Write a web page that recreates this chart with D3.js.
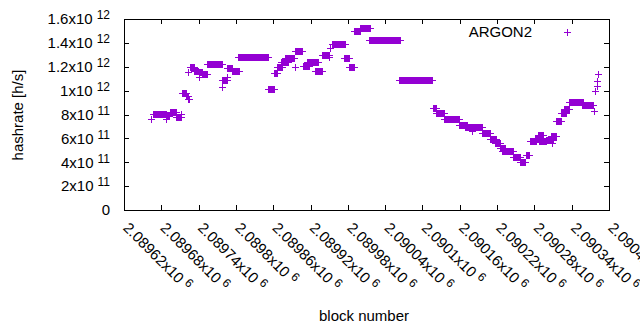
<!DOCTYPE html>
<html>
<head>
<meta charset="utf-8">
<script src="https://cdn.jsdelivr.net/npm/d3@7"></script>
<style>
  body { margin: 0; background: #fff; }
  text { font-family: "Liberation Sans", Arial, sans-serif; fill: #000; }
</style>
</head>
<body>
<div id="chart"></div>
<script>

// runs of consecutive blocks that share one hashrate value (h/s)
var runFirst = [2089664, 2089667, 2089689, 2089688, 2089694, 2089705, 2089712,
  2089714, 2089721, 2089724,
  2089723, 2089727, 2089733, 2089741, 2089747, 2089742,
  2089754,
  2089779, 2089779, 2089787,
  2089787, 2089794,
  2089804,
  2089853,
  2089862, 2089867, 2089874, 2089879, 2089896, 2089896, 2089908, 2089915, 2089928,
  2089940, 2089950, 2089952, 2089955, 2089975, 2089983, 2089990, 2090001, 2090015,
  2090063,
  2090117, 2090123, 2090136, 2090160, 2090169, 2090181, 2090197, 2090209, 2090217,
  2090225, 2090228, 2090246, 2090257, 2090267, 2090273, 2090281, 2090286, 2090289,
  2090300, 2090308, 2090309, 2090316, 2090324, 2090329, 2090336, 2090358,
  2090377, 2090379, 2090381, 2090382, 2090383];
var runLast = [2089664, 2089688, 2089689, 2089693, 2089704, 2089712, 2089712,
  2089720, 2089724, 2089726,
  2089723, 2089733, 2089740, 2089747, 2089754, 2089742,
  2089778,
  2089779, 2089786, 2089787,
  2089794, 2089805,
  2089853,
  2089862,
  2089867, 2089875, 2089884, 2089894, 2089896, 2089907, 2089918, 2089932, 2089940,
  2089951, 2089950, 2089952, 2089977, 2089983, 2089990, 2090001, 2090017, 2090064,
  2090116,
  2090123, 2090136, 2090160, 2090173, 2090197, 2090181, 2090210, 2090219, 2090225,
  2090233, 2090246, 2090257, 2090266, 2090272, 2090284, 2090286, 2090294, 2090300,
  2090310, 2090316, 2090309, 2090324, 2090332, 2090337, 2090359, 2090375,
  2090377, 2090379, 2090381, 2090382, 2090383];
var runRate = [7.58e11, 8.04e11, 7.62e11, 7.87e11, 8.17e11, 7.75e11, 8.04e11,
  9.72e11, 9.47e11, 9.26e11,
  1.156e12, 1.190e12, 1.164e12, 1.148e12, 1.131e12, 1.106e12,
  1.215e12,
  1.022e12, 1.089e12, 1.114e12,
  1.185e12, 1.164e12,
  1.277e12,
  1.011e12,
  1.145e12, 1.190e12, 1.237e12, 1.265e12, 1.195e12, 1.329e12, 1.204e12, 1.237e12, 1.159e12,
  1.296e12, 1.276e12, 1.355e12, 1.388e12, 1.265e12, 1.195e12, 1.497e12, 1.519e12, 1.416e12,
  1.083e12,
  8.47e11, 8.12e11, 7.60e11, 7.06e11, 6.94e11, 6.60e11, 6.45e11, 5.92e11, 5.59e11,
  5.19e11, 4.88e11, 4.37e11, 4.00e11, 4.57e11, 5.75e11, 5.89e11, 6.28e11, 5.70e11,
  5.80e11, 6.14e11, 5.59e11, 7.44e11, 8.10e11, 8.38e11, 9.03e11, 8.73e11,
  8.23e11, 9.91e11, 1.033e12, 1.075e12, 1.131e12];

var seriesName = "ARGON2";
var xTicks = [2089620, 2089680, 2089740, 2089800, 2089860, 2089920, 2089980,
  2090040, 2090100, 2090160, 2090220, 2090280, 2090340, 2090400];
var yTicks = [0, 2e11, 4e11, 6e11, 8e11, 1e12, 1.2e12, 1.4e12, 1.6e12];

var W = 640, H = 330;
var plotL = 124, plotR = 609, plotT = 19, plotB = 210;
var purple = "#9400d3";
var fs = 15, fsSup = 12;

var svg = d3.select("#chart").append("svg")
  .attr("width", W)
  .attr("height", H);

var x = d3.scaleLinear().domain([xTicks[0], xTicks[xTicks.length - 1]]).range([plotL, plotR]);
var y = d3.scaleLinear().domain([0, 1.6e12]).range([plotB, plotT]);

// split a value into mantissa and power of ten, gnuplot style
function sci(v) {
  if (v === 0) return null;
  var e = Math.floor(Math.log10(v) + 1e-9);
  var m = +(v / Math.pow(10, e)).toFixed(6);
  return [String(m), String(e)];
}

// axes with inward ticks, mirrored on the opposite side
var tl = 5;
var yAxisL = d3.axisLeft(y).tickValues(yTicks).tickSize(-tl).tickFormat("");
var yAxisR = d3.axisRight(y).tickValues(yTicks).tickSize(-tl).tickFormat("");
var xAxisB = d3.axisBottom(x).tickValues(xTicks).tickSize(-tl).tickFormat("");
var xAxisT = d3.axisTop(x).tickValues(xTicks).tickSize(-tl).tickFormat("");

svg.append("g").attr("transform", "translate(" + plotL + ",0)").call(yAxisL);
svg.append("g").attr("transform", "translate(" + plotR + ",0)").call(yAxisR);
svg.append("g").attr("transform", "translate(0," + plotB + ")").call(xAxisB);
svg.append("g").attr("transform", "translate(0," + plotT + ")").call(xAxisT);
svg.selectAll(".domain").remove();
svg.selectAll(".tick line").attr("stroke", "#000").attr("shape-rendering", "crispEdges");

svg.append("rect")
  .attr("x", plotL).attr("y", plotT)
  .attr("width", plotR - plotL).attr("height", plotB - plotT)
  .attr("fill", "none").attr("stroke", "#000")
  .attr("shape-rendering", "crispEdges");

// y tick labels
var yl = svg.append("g").selectAll("text")
  .data(yTicks)
  .enter().append("text")
  .attr("x", 110)
  .attr("y", function(d) { return y(d); })
  .attr("dy", "0.35em")
  .attr("text-anchor", "end")
  .style("font-size", fs + "px");
yl.each(function(d) {
  var t = d3.select(this);
  var s = sci(d);
  if (!s) { t.text("0"); return; }
  t.append("tspan").text(s[0] + "x10");
  t.append("tspan").attr("dx", 4).attr("dy", -5).style("font-size", fsSup + "px").text(s[1]);
});

// x tick labels, rotated
var xl = svg.append("g").selectAll("text")
  .data(xTicks)
  .enter().append("text")
  .attr("transform", function(d) { return "translate(" + (x(d) + 2) + ",225) rotate(45)"; })
  .attr("dy", "0.35em")
  .attr("text-anchor", "start")
  .style("font-size", fs + "px");
xl.each(function(d) {
  var t = d3.select(this);
  var m = String(+(d / 1e6).toFixed(5));
  t.append("tspan").text(m + "x10");
  t.append("tspan").attr("dx", 4).attr("dy", -5).style("font-size", fsSup + "px").text("6");
});

// axis titles
svg.append("text")
  .attr("transform", "translate(23,115) rotate(-90)")
  .attr("text-anchor", "middle")
  .style("font-size", fs + "px")
  .text("hashrate [h/s]");

svg.append("text")
  .attr("x", 364).attr("y", 321)
  .attr("text-anchor", "middle")
  .style("font-size", fs + "px")
  .text("block number");

// expand the runs into one point per block
var points = [];
runFirst.forEach(function(b0, i) {
  for (var b = b0; b <= runLast[i]; b++) points.push({ block: b, rate: runRate[i] });
});

function cross(cx, cy) {
  var s = 3.5;
  return "M" + (cx - s) + "," + cy + "h" + (2 * s) + "M" + cx + "," + (cy - s) + "v" + (2 * s);
}

svg.append("g").selectAll("path")
  .data(points)
  .enter().append("path")
  .attr("d", function(d) { return cross(x(d.block), y(d.rate)); })
  .attr("stroke", purple)
  .attr("stroke-width", 1)
  .attr("fill", "none")
  .attr("shape-rendering", "crispEdges");

// key
svg.append("text")
  .attr("x", 532).attr("y", 37)
  .attr("text-anchor", "end")
  .style("font-size", fs + "px")
  .text(seriesName);
svg.append("path")
  .attr("d", cross(567, 32))
  .attr("stroke", purple)
  .attr("fill", "none")
  .attr("shape-rendering", "crispEdges");

</script>
</body>
</html>
